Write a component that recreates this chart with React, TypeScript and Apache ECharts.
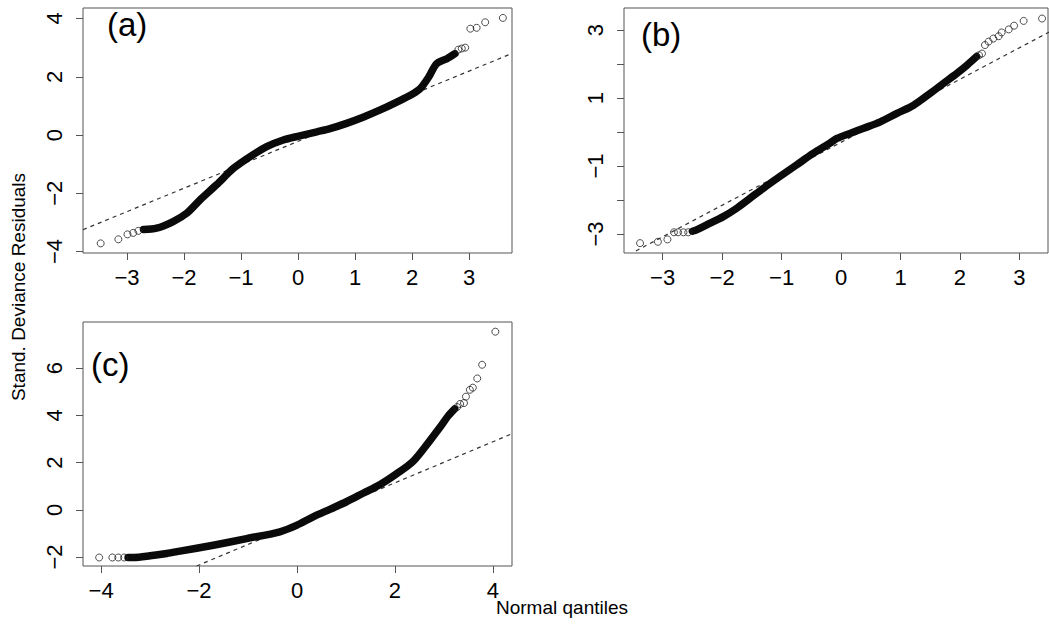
import React, { useEffect, useRef } from "react";
import * as echarts from "echarts";

// ---------- data ----------
// Panel (a)
const denseA: number[][] = [
  [-2.71, -3.24], [-2.48, -3.2], [-2.19, -2.97], [-1.95, -2.68], [-1.72, -2.23],
  [-1.43, -1.71], [-1.13, -1.14], [-0.84, -0.74], [-0.55, -0.4], [-0.26, -0.17],
  [0.03, -0.03], [0.33, 0.11], [0.56, 0.22], [0.85, 0.4], [1.15, 0.62],
  [1.45, 0.87], [1.73, 1.13], [2.0, 1.4], [2.14, 1.59], [2.29, 1.99],
  [2.43, 2.45], [2.61, 2.62], [2.75, 2.79],
];
const tailA: number[][] = [
  [-3.46, -3.72], [-3.15, -3.58], [-2.99, -3.41], [-2.89, -3.36], [-2.8, -3.29],
  [2.81, 2.93], [2.87, 2.97], [2.93, 3.0], [3.02, 3.65], [3.13, 3.68],
  [3.28, 3.87], [3.59, 4.02],
];
const refA: number[][] = [[-3.77, -3.25], [3.75, 2.8]];

// Panel (b)
const denseB: number[][] = [
  [-2.5, -2.92], [-2.43, -2.88], [-2.21, -2.69], [-1.98, -2.49], [-1.76, -2.25],
  [-1.53, -1.95], [-1.31, -1.66], [-1.03, -1.31], [-0.75, -0.97], [-0.47, -0.63],
  [-0.19, -0.33], [-0.07, -0.19], [0.15, -0.04], [0.38, 0.11], [0.66, 0.3],
  [0.94, 0.55], [1.22, 0.79], [1.5, 1.14], [1.72, 1.43], [1.95, 1.73],
  [2.12, 1.97], [2.28, 2.22],
];
const tailB: number[][] = [
  [-3.38, -3.27], [-3.08, -3.23], [-2.92, -3.16], [-2.81, -2.95], [-2.74, -2.95],
  [-2.65, -2.95], [-2.57, -2.95], [2.32, 2.26], [2.37, 2.31], [2.42, 2.56],
  [2.48, 2.66], [2.56, 2.75], [2.65, 2.82], [2.7, 2.93], [2.82, 3.02],
  [2.91, 3.13], [3.07, 3.27], [3.38, 3.34],
];
const refB: number[][] = [[-3.45, -3.5], [3.55, 2.99]];

// Panel (c)
const denseC: number[][] = [
  [-3.45, -2.02], [-3.34, -2.02], [-3.0, -1.95], [-2.66, -1.85], [-2.39, -1.75],
  [-1.71, -1.5], [-1.03, -1.22], [-0.35, -0.93], [-0.01, -0.66], [0.33, -0.3],
  [0.67, 0.02], [1.01, 0.34], [1.35, 0.7], [1.69, 1.06], [2.03, 1.52],
  [2.37, 2.05], [2.71, 2.92], [2.92, 3.49], [3.09, 3.98], [3.22, 4.27],
];
const tailC: number[][] = [
  [-4.04, -2.02], [-3.77, -2.02], [-3.65, -2.02], [-3.53, -2.02], [3.27, 4.35],
  [3.33, 4.48], [3.41, 4.52], [3.45, 4.79], [3.53, 5.08], [3.59, 5.17],
  [3.68, 5.56], [3.78, 6.14], [4.05, 7.54],
];
const refC: number[][] = [[-2.05, -2.38], [4.39, 3.22]];

// tick values
const xTicksAB = [-3, -2, -1, 0, 1, 2, 3];
const yTicksA = [-4, -2, 0, 2, 4];
const yTicksB = [-3, -2, -1, 0, 1, 2, 3];
const yLabelsB = [-3, -1, 1, 3];
const xTicksC = [-4, -2, 0, 2, 4];
const yTicksC = [-2, 0, 2, 4, 6];

const panelLabels = ["(a)", "(b)", "(c)"];
const yTitle = "Stand. Deviance Residuals";
const xTitle = "Normal qantiles";

// ---------- styling ----------
const FONT = "'Liberation Sans', Arial, Helvetica, sans-serif";
const BOX = "#555";
const fmt = (v: number) => (v < 0 ? "\u2212" + Math.abs(v) : String(v));

function xAxisOf(gridIndex: number, min: number, max: number, ticks: number[]) {
  return {
    type: "value",
    gridIndex,
    min,
    max,
    position: "bottom",
    axisLine: { show: false, onZero: false },
    splitLine: { show: false },
    axisTick: { show: true, inside: false, length: 7, customValues: ticks, lineStyle: { color: BOX, width: 1 } },
    axisLabel: { show: true, customValues: ticks, formatter: fmt, margin: 13, color: "#000", fontSize: 22, fontFamily: FONT },
  };
}
function yAxisOf(gridIndex: number, min: number, max: number, ticks: number[], labels: number[]) {
  return {
    type: "value",
    gridIndex,
    min,
    max,
    position: "left",
    axisLine: { show: false, onZero: false },
    splitLine: { show: false },
    axisTick: { show: true, inside: false, length: 7, customValues: ticks, lineStyle: { color: BOX, width: 1 } },
    axisLabel: { show: true, customValues: labels, formatter: fmt, rotate: 90, margin: 18, color: "#000", fontSize: 22, fontFamily: FONT },
  };
}

function seriesFor(i: number, dense: number[][], tail: number[][], ref: number[][]) {
  return [
    {
      type: "line",
      xAxisIndex: i,
      yAxisIndex: i,
      data: ref,
      showSymbol: false,
      symbol: "none",
      clip: true,
      lineStyle: { color: "#333", width: 1.2, type: [4, 4] },
      z: 1,
    },
    {
      type: "line",
      xAxisIndex: i,
      yAxisIndex: i,
      data: dense,
      showSymbol: false,
      symbol: "none",
      smooth: 0.3,
      lineStyle: { color: "#0a0a0a", width: 7.5, cap: "round", join: "round" },
      z: 2,
    },
    {
      type: "scatter",
      xAxisIndex: i,
      yAxisIndex: i,
      data: tail,
      symbol: "circle",
      symbolSize: 7,
      itemStyle: { color: "rgba(0,0,0,0)", borderColor: "#222", borderWidth: 1 },
      z: 3,
    },
  ];
}

export default function App() {
  const ref = useRef<HTMLDivElement>(null);
  useEffect(() => {
    if (!ref.current) return;
    const chart = echarts.init(ref.current, null, { renderer: "svg" });
    const gridCommon = { show: true, borderColor: BOX, borderWidth: 1, containLabel: false };
    chart.setOption({
      animation: false,
      backgroundColor: "#fff",
      textStyle: { fontFamily: FONT },
      grid: [
        { ...gridCommon, left: 83, top: 8, width: 429, height: 245 },
        { ...gridCommon, left: 624, top: 8, width: 424, height: 245 },
        { ...gridCommon, left: 83, top: 322, width: 429, height: 244 },
      ],
      xAxis: [
        xAxisOf(0, -3.77, 3.75, xTicksAB),
        xAxisOf(1, -3.65, 3.48, xTicksAB),
        xAxisOf(2, -4.37, 4.39, xTicksC),
      ],
      yAxis: [
        yAxisOf(0, -4.05, 4.36, yTicksA, yTicksA),
        yAxisOf(1, -3.56, 3.65, yTicksB, yLabelsB),
        yAxisOf(2, -2.38, 7.95, yTicksC, yTicksC),
      ],
      series: [
        ...seriesFor(0, denseA, tailA, refA),
        ...seriesFor(1, denseB, tailB, refB),
        ...seriesFor(2, denseC, tailC, refC),
      ],
      graphic: [
        { type: "text", left: 107, top: 8, style: { text: panelLabels[0], font: `33px ${FONT}`, fill: "#000" } },
        { type: "text", left: 641, top: 18, style: { text: panelLabels[1], font: `33px ${FONT}`, fill: "#000" } },
        { type: "text", left: 91, top: 348, style: { text: panelLabels[2], font: `33px ${FONT}`, fill: "#000" } },
        {
          type: "text",
          x: 18,
          y: 287,
          rotation: Math.PI / 2,
          style: { text: yTitle, font: `19px ${FONT}`, fill: "#000", align: "center", verticalAlign: "middle" },
        },
        {
          type: "text",
          x: 562,
          y: 607,
          style: { text: xTitle, font: `19px ${FONT}`, fill: "#000", align: "center", verticalAlign: "middle" },
        },
      ],
    });
    return () => chart.dispose();
  }, []);
  return (
    <div
      ref={ref}
      style={{ position: "absolute", left: 0, top: 0, width: 1049, height: 626 }}
    />
  );
}
